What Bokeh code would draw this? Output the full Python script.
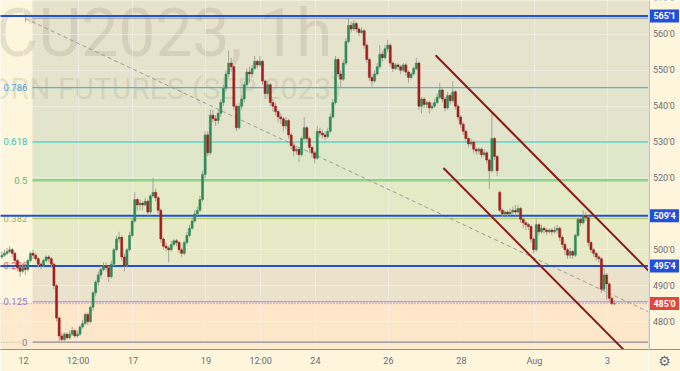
from bokeh.plotting import figure
from bokeh.models import Range1d, FixedTicker, ColumnDataSource, Grid
from bokeh.layouts import row
from bokeh.embed import file_html
from bokeh.resources import INLINE
from bokeh.core.properties import value

# ---------------- data ----------------
OPEN0 = 498.0
GAP_OPENS = {191: 516.0}
CLOSE = [
    498.5, 499, 499.5, 500, 499, 497, 495, 494, 495, 494.5, 497, 499,
    498.5, 497.5, 496, 495.5, 497, 498, 497.5, 496, 490, 481, 476, 475,
    476.5, 475.5, 476.5, 477.5, 476, 476.5, 478.5, 479.5, 482, 480, 484, 488,
    491, 493, 494.5, 495.5, 495, 492.5, 496, 500, 503, 503.5, 498, 495.5,
    500, 504, 508, 514, 512.5, 513, 512.5, 513.5, 510.5, 515, 516, 514.5,
    511, 503, 501, 500.5, 500, 501.5, 502.5, 502, 500, 499, 502, 504,
    506, 508, 510, 511, 514, 521, 532, 527, 537.5, 536.5, 536, 538,
    541, 545, 549, 552, 551, 540, 534, 540, 542, 546, 549.5, 549,
    550.5, 552.5, 551.5, 552.5, 547, 543.5, 546, 541, 540, 538.5, 537, 536.5,
    534.5, 536, 532, 529, 527.5, 528, 526.5, 531, 534, 531, 528.5, 527,
    525.5, 533, 532.5, 532, 531.5, 533, 537, 541, 553, 549, 547.5, 552,
    558, 562.5, 561.5, 563, 561.5, 560.5, 561, 557, 553, 548, 547, 549,
    551, 554.5, 553.5, 556, 557, 552, 550.5, 551.5, 551, 550, 551.5, 549.5,
    548, 549, 550.5, 552, 540, 542, 540.5, 541, 539.5, 540, 541, 542.5,
    544.5, 542, 539.5, 543, 541.5, 544, 540, 537, 535, 533, 531, 529.5,
    530, 528, 527.5, 528, 526.5, 527, 525, 522, 531, 526, 522, 511,
    510, 510.5, 510, 510.5, 511, 510.5, 511.5, 508.5, 507.5, 507, 506.5, 503,
    500, 507, 505, 506, 505.5, 505, 505.5, 505, 505.5, 506, 503.5, 501.5,
    500, 498.5, 499.5, 498.5, 504, 508.5, 507.5, 509.5, 509, 502, 500, 499,
    498, 497.5, 489, 493, 490.5, 486.5, 485, 485,
]
HIGH = [
    499.5, 500, 500.5, 501, 500.5, 499.5, 497.5, 495.5, 496, 495.5, 497.5, 499.5,
    500, 499, 498, 496.5, 497.5, 498.5, 498.5, 498, 496.5, 490.5, 481.5, 477,
    477, 477, 477.5, 478.5, 478, 477.5, 479, 480.5, 482.5, 482.5, 484.5, 488.5,
    491.5, 494, 495.5, 496.5, 496.5, 495.5, 497, 500.5, 504, 505, 504, 499,
    500.5, 505, 509, 516, 514.5, 514, 513.5, 514.5, 514, 515.5, 520, 517,
    515, 511.5, 503.5, 502, 501, 502.5, 503, 503, 502.5, 500.5, 502.5, 505,
    507, 509, 511, 512, 515, 522, 533, 533, 539, 539, 537.5, 539,
    542, 546, 550, 555.5, 553.5, 551.5, 540.5, 541, 543, 547, 550.5, 551,
    551.5, 554, 553, 554, 553, 547.5, 547, 546.5, 542, 541, 539, 538,
    537, 537, 536.5, 532.5, 530, 529, 528.5, 531.5, 537, 534.5, 531.5, 529,
    527.5, 534.5, 534, 533.5, 533, 534, 538, 542, 554, 553.5, 550, 553,
    559, 564.5, 563.5, 564, 563.5, 562, 562, 561.5, 557.5, 553.5, 549, 550,
    552, 557, 555.5, 557, 558.5, 557.5, 552.5, 552, 552, 551.5, 552, 552,
    550, 549.5, 551, 553.5, 552.5, 542.5, 542.5, 541.5, 541.5, 541, 542, 543.5,
    546.5, 545, 542.5, 544, 543.5, 547, 544.5, 540.5, 537.5, 535.5, 533.5, 531.5,
    531, 530.5, 528.5, 528.5, 528.5, 528, 527.5, 525.5, 538, 531.5, 526.5, 516.5,
    511.5, 511, 511, 511.5, 512, 512.5, 512.5, 512, 509, 508, 507.5, 507,
    503.5, 508.5, 507.5, 507, 506.5, 506, 506, 506, 506.5, 507, 506.5, 504,
    502, 500.5, 500.5, 500, 504.5, 509.5, 509, 511, 510.5, 509.5, 502.5, 500.5,
    499.5, 498.5, 498, 495, 493.5, 491, 487, 486,
]
LOW = [
    497.5, 498, 498.5, 499, 498, 496, 494, 492.5, 493.5, 493, 494, 496.5,
    497.5, 497, 495, 494.5, 495, 496.5, 496.5, 495, 489, 480, 474.5, 474.25,
    474.5, 475, 475, 476, 475.5, 475.5, 476, 478, 479, 479, 479.5, 483,
    487, 490, 492, 494, 494, 491, 492, 495.5, 499.5, 502, 497, 494,
    495, 499.5, 503.5, 507.5, 511, 511, 511, 512, 509.5, 510, 514.5, 513.5,
    510, 502, 500, 499.5, 496.5, 499.5, 501, 501, 499, 498, 498.5, 501.5,
    503.5, 505.5, 507.5, 509.5, 510.5, 513.5, 520, 526, 526.5, 535.5, 534.5, 535,
    537, 540, 544, 548, 549.5, 539, 533, 533.5, 539, 541, 545, 546.5,
    548, 550, 550.5, 551, 546, 542, 543, 540, 538.5, 537.5, 535.5, 535,
    533, 533.5, 531, 528, 526, 526.5, 524.5, 526, 530.5, 530, 527, 525.5,
    524, 525, 531.5, 531, 530.5, 531, 532.5, 536.5, 540.5, 548, 545, 547,
    551.5, 557.5, 560.5, 561, 560.5, 559.5, 560, 556, 552, 547, 545.5, 546.5,
    548.5, 550.5, 552.5, 553, 555, 551, 549.5, 550, 550, 549, 549.5, 548.5,
    546.5, 547.5, 548.5, 550, 539, 538, 539.5, 539.5, 538, 539, 539.5, 540.5,
    542, 541, 538.5, 539, 540.5, 541, 539, 536, 534, 532, 530, 528.5,
    529, 527, 526.5, 526.5, 525.5, 526, 524, 517, 521.5, 525, 520.5, 510.5,
    509, 509.5, 509, 509.5, 510, 509.5, 510, 507.5, 506, 505.5, 505.5, 502,
    499, 499.5, 504, 504.5, 504.5, 504, 504.5, 504, 504.5, 504.5, 502.5, 500.5,
    498.5, 497.5, 497.5, 497.5, 498, 503.5, 506.5, 507, 508, 501, 499, 498,
    497, 496.5, 488, 488.5, 486, 485.5, 484.5, 484.5,
]

TIME_TICKS = [8.3, 29.3, 50.3, 78.3, 99.3, 120.3, 148.3, 176.3, 204.3, 232.3]
TIME_LABELS = ["12", "12:00", "17", "19", "12:00", "24", "26", "28", "Aug", "3"]
PRICE_TICKS = [480, 490, 500, 510, 520, 530, 540, 550, 560, 570]
PRICE_LABELS = ["480'0", "490'0", "500'0", "510'0", "520'0", "530'0", "540'0", "550'0", "560'0", "570'0"]

FIB_LOW = 474.25
FIB_HIGH = 564.5
FIB_START = 11.8
FIB_LEVELS = [0, 0.125, 0.236, 0.382, 0.5, 0.618, 0.786, 1]
FIB_TEXTS = ["0", "0.125", "0.236", "0.382", "0.5", "0.618", "0.786", ""]

RAY_PRICES = [565.125, 509.5, 495.5]
RAY_TEXTS = ["565'1", "509'4", "495'4"]
LAST_PRICE = 485.0
LAST_TEXT = "485'0"

TREND_X = [9.1, 249.0]
TREND_Y = [564.4, 482.4]
CHAN_UP_X = [166.4, 252.0]
CHAN_UP_Y = [554.2, 491.3]
CHAN_LO_X = [169.4, 242.0]
CHAN_LO_Y = [522.8, 469.6]
TREND_TICK_X = [9.1, 9.1]
TREND_TICK_Y = [563.5, 565.6]

WATERMARK_1 = "ZCU2023, 1h"
WATERMARK_2 = "CORN FUTURES (SEP 2023)"
SETTINGS_ICON = "\u2699"

# ---------------- styles ----------------
BG = "#fdf5dc"
PEACH = "#fde9cd"
FILL_TOP = "#e6e2cb"
ZONE_FILLS = ["#fce7ca", "#ebe2cb", "#e8eac7", "#e4e9c6", "#dfe7ca", "#e2e5cb", "#e6e3cc"]
LEVEL_COLORS = ["#8a8d95", "#b7a1dc", "#e85b5b", "#b9d36c", "#8fd18f", "#62cfc2", "#5aafe0", "#9598a1"]
LEVEL_WIDTHS = [1.2, 1.5, 1.5, 1.5, 2.5, 1.5, 1.2, 1.2]
LABEL_COLORS = ["#7f828b", "#9575cd", "#e05555", "#a7b83a", "#5dbb63", "#3fbfa6", "#4aa3dd", "#9598a1"]
RAY_COLOR = "#2250d8"
LAST_COLOR = "#e0473d"
CHAN_COLOR = "#8e1b1b"
UP_COLOR = "#2f8a57"
DN_COLOR = "#a11d1d"
WICK_COLOR = "#a4a49c"
AXIS_TEXT = "#6a6d78"
AXIS_LINE = "#8f929a"
FONT = "Roboto"

X0, X1 = -0.5, 248.06
Y0, Y1 = 472.22, 569.44
BOTTOM_PX = 21
SIDE_W = 32

p = figure(width=648, height=371, x_range=Range1d(X0, X1), y_range=Range1d(Y0, Y1),
           output_backend="svg", toolbar_location=None, y_axis_location=None,
           min_border_left=0, min_border_top=0, min_border_right=0, min_border_bottom=BOTTOM_PX)
p.background_fill_color = BG
p.border_fill_color = BG
p.outline_line_color = None

fib_prices = [FIB_LOW + f * (FIB_HIGH - FIB_LOW) for f in FIB_LEVELS]

# peach band below the last price (full width)
r = p.quad(left=[X0 - 5], right=[X1 + 5], bottom=[Y0 - 5], top=[LAST_PRICE], fill_color=PEACH, line_color=None)
r.level = "image"
# fib zones
zl, zr, zb, zt, zc = [], [], [], [], []
for k in range(len(fib_prices) - 1):
    zl.append(FIB_START); zr.append(X1 + 5)
    zb.append(fib_prices[k]); zt.append(fib_prices[k + 1]); zc.append(ZONE_FILLS[k])
zl.append(FIB_START); zr.append(X1 + 5); zb.append(fib_prices[-1]); zt.append(Y1 + 5); zc.append(FILL_TOP)
r = p.quad(left=zl, right=zr, bottom=zb, top=zt, fill_color=zc, line_color=None)
r.level = "image"

# watermark
wm_x = 126.8
r = p.text(x=[wm_x], y=[560.3], text=[WATERMARK_1], text_align="right", text_baseline="alphabetic",
           text_font_size="66px", text_color="#8a8878", text_alpha=0.2, text_font=value(FONT))
r.level = "image"
r = p.text(x=[wm_x + 3.5], y=[545.0], text=[WATERMARK_2], text_align="right", text_baseline="alphabetic",
           text_font_size="30px", text_color="#8a8878", text_alpha=0.2, text_font=value(FONT))
r.level = "image"

# grid
p.xgrid.ticker = FixedTicker(ticks=TIME_TICKS)
if len(p.ygrid) == 0:
    p.add_layout(Grid(dimension=1, ticker=FixedTicker(ticks=PRICE_TICKS)))
else:
    p.ygrid.ticker = FixedTicker(ticks=PRICE_TICKS)
for g in p.renderers + p.center:
    if isinstance(g, Grid):
        g.grid_line_color = "#f4f3ee"
        g.grid_line_alpha = 0.55
        g.grid_line_width = 1

# dotted leftovers at left of fib 0
p.segment(x0=[X0], y0=[FIB_LOW], x1=[FIB_START - 4.2], y1=[FIB_LOW], line_color="#9a9ca3", line_dash="1 2", line_width=1)

# fib level lines
p.segment(x0=[FIB_START] * len(fib_prices), y0=fib_prices, x1=[X1 + 5] * len(fib_prices), y1=fib_prices,
          line_color=LEVEL_COLORS, line_width=LEVEL_WIDTHS)
p.segment(x0=[X0], y0=[fib_prices[2]], x1=[FIB_START], y1=[fib_prices[2]], line_color=LEVEL_COLORS[2], line_width=1.5)

# fib labels
lab_src = ColumnDataSource(dict(x=[FIB_START - 2.0] * 7, y=fib_prices[:7], t=FIB_TEXTS[:7], c=LABEL_COLORS[:7]))
p.text(x="x", y="y", text="t", text_color="c", source=lab_src, text_align="right", text_baseline="middle",
       text_font_size="9.5px", text_font=value(FONT))

# last price dotted line
p.segment(x0=[X0], y0=[LAST_PRICE], x1=[X1 + 5], y1=[LAST_PRICE], line_color="#e57373", line_dash="1 2", line_width=1)

# trend (dashed) line
p.line(x=TREND_X, y=TREND_Y, line_color="#9b9b96", line_dash="4 3", line_width=1)
p.line(x=TREND_TICK_X, y=TREND_TICK_Y, line_color="#9b9b96", line_width=1)

# horizontal rays
p.segment(x0=[X0 - 5] * 3, y0=RAY_PRICES, x1=[X1 + 5] * 3, y1=RAY_PRICES, line_color=RAY_COLOR, line_width=2)

# candles
n = len(CLOSE)
opens = [OPEN0] + CLOSE[:-1]
for k, v in GAP_OPENS.items():
    opens[k] = v
xs = list(range(n))
top = [max(o, c) for o, c in zip(opens, CLOSE)]
bot = [min(o, c) for o, c in zip(opens, CLOSE)]
col = [UP_COLOR if c >= o else DN_COLOR for o, c in zip(opens, CLOSE)]
src = ColumnDataSource(dict(x=xs, h=HIGH, l=LOW, top=top, bot=bot, col=col))
p.segment(x0="x", y0="l", x1="x", y1="h", source=src, line_color=WICK_COLOR, line_width=1)
p.vbar(x="x", width=0.8, top="top", bottom="bot", source=src, fill_color="col", line_color="col", line_width=0.5)

# channel
p.line(x=CHAN_UP_X, y=CHAN_UP_Y, line_color=CHAN_COLOR, line_width=2)
p.line(x=CHAN_LO_X, y=CHAN_LO_Y, line_color=CHAN_COLOR, line_width=2)

# time axis
xa = p.xaxis[0]
xa.ticker = FixedTicker(ticks=TIME_TICKS)
xa.major_label_overrides = dict(zip(TIME_TICKS, TIME_LABELS))
xa.major_tick_out = 0
xa.major_tick_in = 0
xa.minor_tick_out = 0
xa.minor_tick_in = 0
xa.axis_line_color = AXIS_LINE
xa.major_label_text_color = AXIS_TEXT
xa.major_label_text_font_size = "9px"
xa.major_label_text_font = FONT
xa.major_label_standoff = 6

# ---------------- price scale panel (same y scale as the chart) ----------------
s = figure(width=SIDE_W, height=371, x_range=Range1d(0, SIDE_W), y_range=p.y_range,
           output_backend="svg", toolbar_location=None, x_axis_location="below", y_axis_location=None,
           min_border_left=0, min_border_top=0, min_border_right=0, min_border_bottom=BOTTOM_PX)
s.background_fill_color = BG
s.border_fill_color = BG
s.outline_line_color = None
s.grid.visible = False

sa = s.xaxis[0]
sa.ticker = FixedTicker(ticks=[SIDE_W / 2])
sa.major_label_overrides = {SIDE_W / 2: SETTINGS_ICON}
sa.major_tick_out = 0
sa.major_tick_in = 0
sa.minor_tick_out = 0
sa.minor_tick_in = 0
sa.axis_line_color = AXIS_LINE
sa.major_label_text_color = AXIS_TEXT
sa.major_label_text_font_size = "14px"
sa.major_label_text_font = "DejaVu Sans"
sa.major_label_standoff = 3

s.segment(x0=[0.5], y0=[Y0 - 10], x1=[0.5], y1=[Y1 + 5], line_color=AXIS_LINE, line_width=1)
s.text(x=[4.5] * len(PRICE_TICKS), y=PRICE_TICKS, text=PRICE_LABELS, text_align="left", text_baseline="middle",
       text_color=AXIS_TEXT, text_font_size="9px", text_font=value(FONT))

box_y = RAY_PRICES + [LAST_PRICE]
box_t = RAY_TEXTS + [LAST_TEXT]
box_c = [RAY_COLOR] * 3 + [LAST_COLOR]
s.rect(x=[16] * 4, y=box_y, width=[29] * 4, height=[13] * 4, height_units="screen",
       fill_color=box_c, line_color=None)
s.text(x=[16] * 4, y=box_y, text=box_t, text_align="center", text_baseline="middle", text_color="white",
       text_font_size="9px", text_font_style="bold", text_font=value(FONT))

layout = row(p, s, spacing=0)
open("out.html", "w").write(file_html(layout, INLINE))
